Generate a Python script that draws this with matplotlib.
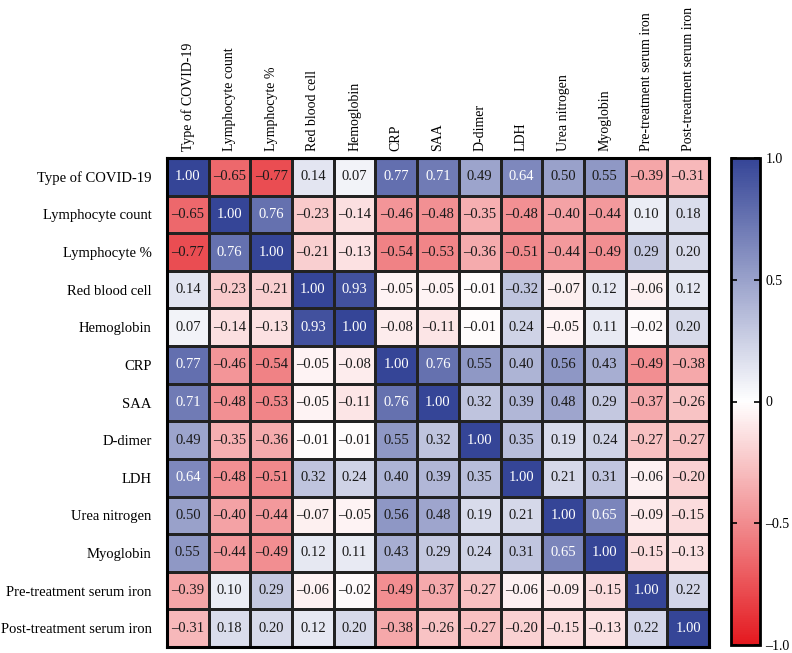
import numpy as np
import matplotlib
matplotlib.use("Agg")
import matplotlib.pyplot as plt
from matplotlib.colors import LinearSegmentedColormap

plt.rcParams["font.family"] = ["Liberation Serif", "DejaVu Serif"]

# Variables (rows and columns share the same order)
labels = ["Type of COVID-19", "Lymphocyte count", "Lymphocyte %", "Red blood cell",
          "Hemoglobin", "CRP", "SAA", "D-dimer", "LDH", "Urea nitrogen",
          "Myoglobin", "Pre-treatment serum iron", "Post-treatment serum iron"]

# Printed correlation values, row by row
r_type = [1.00, -0.65, -0.77, 0.14, 0.07, 0.77, 0.71, 0.49, 0.64, 0.50, 0.55, -0.39, -0.31]
r_lymc = [-0.65, 1.00, 0.76, -0.23, -0.14, -0.46, -0.48, -0.35, -0.48, -0.40, -0.44, 0.10, 0.18]
r_lymp = [-0.77, 0.76, 1.00, -0.21, -0.13, -0.54, -0.53, -0.36, -0.51, -0.44, -0.49, 0.29, 0.20]
r_rbc = [0.14, -0.23, -0.21, 1.00, 0.93, -0.05, -0.05, -0.01, -0.32, -0.07, 0.12, -0.06, 0.12]
r_hgb = [0.07, -0.14, -0.13, 0.93, 1.00, -0.08, -0.11, -0.01, 0.24, -0.05, 0.11, -0.02, 0.20]
r_crp = [0.77, -0.46, -0.54, -0.05, -0.08, 1.00, 0.76, 0.55, 0.40, 0.56, 0.43, -0.49, -0.38]
r_saa = [0.71, -0.48, -0.53, -0.05, -0.11, 0.76, 1.00, 0.32, 0.39, 0.48, 0.29, -0.37, -0.26]
r_ddim = [0.49, -0.35, -0.36, -0.01, -0.01, 0.55, 0.32, 1.00, 0.35, 0.19, 0.24, -0.27, -0.27]
r_ldh = [0.64, -0.48, -0.51, 0.32, 0.24, 0.40, 0.39, 0.35, 1.00, 0.21, 0.31, -0.06, -0.20]
r_urea = [0.50, -0.40, -0.44, -0.07, -0.05, 0.56, 0.48, 0.19, 0.21, 1.00, 0.65, -0.09, -0.15]
r_myo = [0.55, -0.44, -0.49, 0.12, 0.11, 0.43, 0.29, 0.24, 0.31, 0.65, 1.00, -0.15, -0.13]
r_pre = [-0.39, 0.10, 0.29, -0.06, -0.02, -0.49, -0.37, -0.27, -0.06, -0.09, -0.15, 1.00, 0.22]
r_post = [-0.31, 0.18, 0.20, 0.12, 0.20, -0.38, -0.26, -0.27, -0.20, -0.15, -0.13, 0.22, 1.00]

corr = np.array([r_type, r_lymc, r_lymp, r_rbc, r_hgb, r_crp, r_saa, r_ddim,
                 r_ldh, r_urea, r_myo, r_pre, r_post])
# colours follow the lower triangle, mirrored
colour_vals = np.tril(corr) + np.tril(corr, -1).T

cmap = LinearSegmentedColormap.from_list("rwb", ["#e4191f", "#ffffff", "#354597"])

fig = plt.figure(figsize=(7.92, 6.53), dpi=100)
ax = fig.add_axes([167 / 792, 1 - 647 / 653, 542 / 792, 489 / 653])
cax = fig.add_axes([731 / 792, 1 - 645 / 653, 29 / 792, 487 / 653])

n = len(labels)
mesh = ax.pcolormesh(colour_vals, cmap=cmap, vmin=-1, vmax=1,
                     edgecolors="#222222", linewidth=0.9)
ax.set_xlim(0, n)
ax.set_ylim(n, 0)

for i in range(n):
    for j in range(n):
        v = corr[i, j]
        txt = "{:.2f}".format(v).replace("-", "\u2013")
        col = "white" if colour_vals[i, j] > 0.6 else "#1a1a1a"
        ax.text(j + 0.5, i + 0.5, txt, ha="center", va="center",
                fontsize=10.5, color=col)

ax.xaxis.tick_top()
ax.set_xticks(np.arange(n) + 0.5)
ax.set_xticklabels(labels, rotation=90, ha="center", va="bottom", fontsize=10)
ax.set_yticks(np.arange(n) + 0.5)
ax.set_yticklabels(labels, fontsize=10.5)
ax.tick_params(length=0, pad=11)
ax.tick_params(axis="x", pad=5)
for s in ax.spines.values():
    s.set_linewidth(2.2)

cb = fig.colorbar(mesh, cax=cax, ticks=[-1, -0.5, 0, 0.5, 1])
cb.ax.set_yticklabels(["\u20131.0", "\u20130.5", "0", "0.5", "1.0"], fontsize=10)
cb.outline.set_linewidth(2)
cb.ax.tick_params(direction="in", left=True, right=True, length=4, width=1.2, pad=4)

plt.savefig("out.png", dpi=100)
